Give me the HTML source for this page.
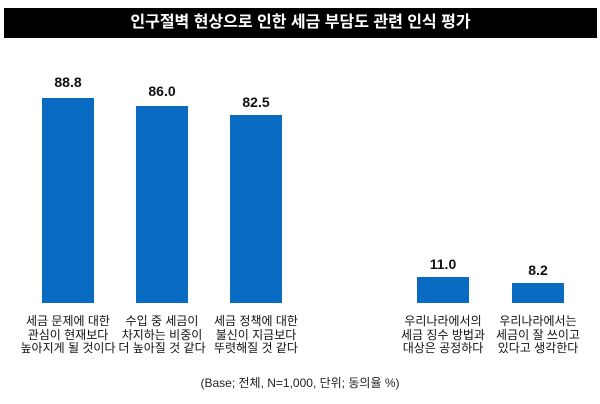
<!DOCTYPE html>
<html><head><meta charset="utf-8"><style>
body{margin:0;width:600px;height:404px;background:#fff;position:relative;overflow:hidden;font-family:"Liberation Sans","Noto Sans CJK KR",sans-serif;}
.t{position:absolute;left:4px;top:8px;width:593px;height:30px;background:#000;color:#fff;font-size:16px;font-weight:bold;text-align:center;line-height:30px;}
.b{position:absolute;background:#0a6bc2;width:52px;bottom:101px;}
.v{position:absolute;width:80px;text-align:center;font-size:14px;font-weight:bold;color:#111;}
.l{position:absolute;width:110px;text-align:center;font-size:12px;line-height:13.5px;color:#111;top:315px;}
.n{position:absolute;top:374px;width:600px;text-align:center;font-size:12px;color:#222;}
</style></head><body>
<div class="t">인구절벽 현상으로 인한 세금 부담도 관련 인식 평가</div>
<div class="b" style="left:42px;top:98px"></div><div class="v" style="left:28px;top:74px">88.8</div>
<div class="b" style="left:136px;top:106px"></div><div class="v" style="left:122px;top:83px">86.0</div>
<div class="b" style="left:230px;top:115px"></div><div class="v" style="left:216px;top:94px">82.5</div>
<div class="b" style="left:417px;top:277px"></div><div class="v" style="left:403px;top:256px">11.0</div>
<div class="b" style="left:512px;top:283px"></div><div class="v" style="left:498px;top:262px">8.2</div>
<div class="l" style="left:13px">세금 문제에 대한<br>관심이 현재보다<br>높아지게 될 것이다</div>
<div class="l" style="left:107px">수입 중 세금이<br>차지하는 비중이<br>더 높아질 것 같다</div>
<div class="l" style="left:201px">세금 정책에 대한<br>불신이 지금보다<br>뚜렷해질 것 같다</div>
<div class="l" style="left:388px">우리나라에서의<br>세금 징수 방법과<br>대상은 공정하다</div>
<div class="l" style="left:483px">우리나라에서는<br>세금이 잘 쓰이고<br>있다고 생각한다</div>
<div class="n">(Base; 전체, N=1,000, 단위; 동의율 %)</div>
</body></html>
